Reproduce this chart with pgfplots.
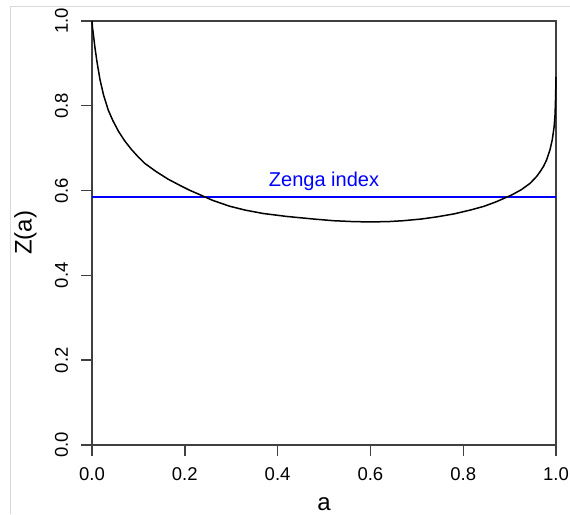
\documentclass[border=0pt]{standalone}
\usepackage{fontspec}
\setmainfont{Liberation Sans}
\usepackage{pgfplots}
\pgfplotsset{compat=1.18}
\begin{document}
\begin{tikzpicture}
\begin{axis}[
  scale only axis,
  width=464pt, height=424pt,
  xmin=0, xmax=1, ymin=0, ymax=1,
  xtick={0,0.2,0.4,0.6,0.8,1.0}, ytick={0,0.2,0.4,0.6,0.8,1.0},
  xticklabels={0.0,0.2,0.4,0.6,0.8,1.0},
  yticklabels={0.0,0.2,0.4,0.6,0.8,1.0},
  tick align=outside, major tick length=11pt,
  xtick pos=bottom, ytick pos=left,
  axis line style={line width=1.4pt, black!75},
  every tick/.style={line width=1.4pt, black!75},
  xticklabel style={font=\fontsize{18.5}{18.5}\selectfont, anchor=base, yshift=-24pt},
  yticklabel style={font=\fontsize{18.5}{18.5}\selectfont, xshift=-13pt, rotate=90, anchor=base},
  every axis x label/.style={at={(axis description cs:0.5,0)}, anchor=base, yshift=-65pt, font=\fontsize{24}{24}\selectfont},
  every axis y label/.style={at={(axis description cs:0,0.5)}, xshift=-60.3pt, rotate=90, anchor=base, font=\fontsize{24}{24}\selectfont},
  xlabel={a}, ylabel={Z(a)},
  clip=false,
]
\addplot[draw=blue, line width=1.6pt] table {
x y
0 0.585
1 0.585
};
\addplot[draw=black, line width=1.5pt] coordinates {
(0,1.0) (0.001,0.985) (0.003,0.968) (0.0065,0.936) (0.011,0.902) (0.0172,0.862) (0.025,0.825) (0.035,0.790)
(0.045,0.765) (0.057,0.740) (0.07,0.718) (0.085,0.697) (0.1,0.679) (0.114,0.664) (0.138,0.645) (0.164,0.627)
(0.19,0.612) (0.21,0.601) (0.229,0.592) (0.26,0.577) (0.297,0.563) (0.33,0.554) (0.369,0.546) (0.42,0.539)
(0.477,0.533) (0.52,0.529) (0.56,0.527) (0.60,0.526) (0.64,0.527) (0.671,0.529) (0.71,0.533) (0.743,0.538)
(0.78,0.545) (0.815,0.554) (0.845,0.563) (0.872,0.574) (0.905,0.590) (0.925,0.602) (0.944,0.617) (0.958,0.633)
(0.966,0.645) (0.973,0.657) (0.980,0.673) (0.987,0.696) (0.992,0.720) (0.996,0.751) (0.998,0.780) (0.999,0.815) (1.0,0.868)
};
\node[anchor=base, text=blue, font=\fontsize{20}{20}\selectfont, inner sep=0pt] at (axis cs:0.5,0.609) {Zenga index};
\end{axis}
\draw[black!15, line width=0.8pt] ([shift={(-81.3pt,-69pt)}]current axis.south west) -- ([shift={(-81.3pt,15pt)}]current axis.north west) -- ([shift={(14pt,15pt)}]current axis.north east);
\pgfresetboundingbox
\path ([shift={(-92pt,-69pt)}]current axis.south west) rectangle ([shift={(14pt,21pt)}]current axis.north east);
\end{tikzpicture}
\end{document}
